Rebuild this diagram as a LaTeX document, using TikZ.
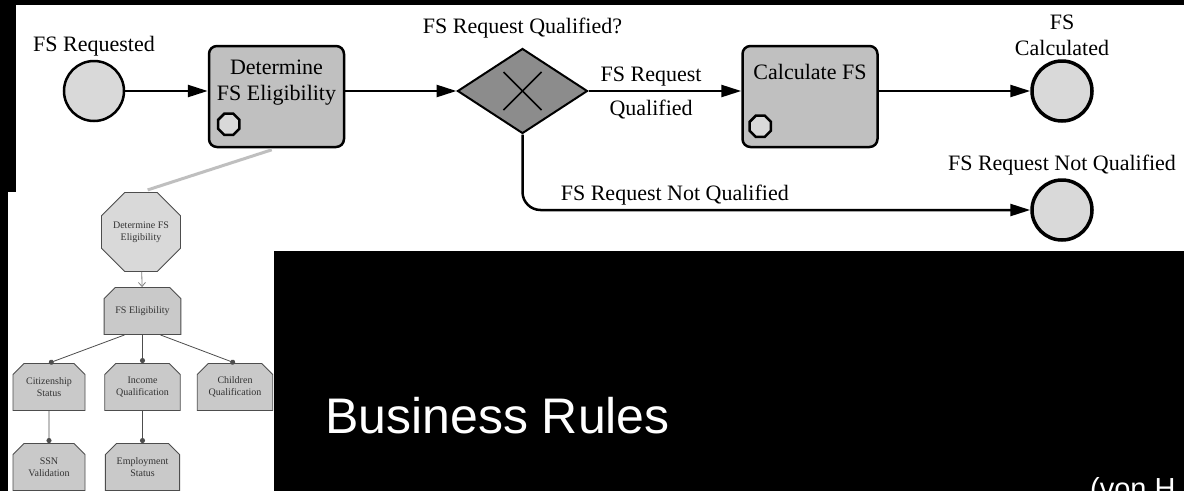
\documentclass[tikz,border=0pt]{standalone}
\usepackage{fontspec}
\setmainfont{Liberation Serif}
\newfontfamily\slidefont{Liberation Sans}
\usetikzlibrary{arrows.meta,shapes.geometric,shapes.misc}
\definecolor{taskgray}{HTML}{C0C0C0}
\definecolor{eventgray}{HTML}{D9D9D9}
\definecolor{gategray}{HTML}{8C8C8C}
\definecolor{rulegray}{HTML}{C9C9C9}
\definecolor{ruleline}{HTML}{4D4D4D}
\begin{document}
\begin{tikzpicture}[x=1pt,y=-1pt,font=\fontsize{22}{26}\selectfont,
	event/.style={circle,draw=black,line width=2.5pt,fill=eventgray,minimum size=60pt,inner sep=0pt,label distance=2pt},
	endevent/.style={event,line width=3.5pt},
	task/.style={rectangle,rounded corners=8pt,draw=black,line width=2.5pt,fill=taskgray,minimum width=135pt,minimum height=101pt},
	marker/.style={regular polygon,regular polygon sides=8,draw=black,line width=2.5pt,fill=eventgray,minimum size=23pt,inner sep=0pt},
	gate/.style={diamond,aspect=1.53,draw=black,line width=2pt,fill=gategray,minimum width=130pt,minimum height=85pt,inner sep=0pt},
	flow/.style={line width=2.5pt,-{Triangle[length=20pt,width=12pt]}},
	rulebox/.style={chamfered rectangle,chamfered rectangle corners={north west,north east},chamfered rectangle xsep=8pt,draw=ruleline,line width=0.9pt,fill=rulegray,minimum width=72pt,minimum height=47pt,align=center,text=black!80,font=\fontsize{10}{12}\selectfont},
	ruleedge/.style={draw=ruleline,line width=0.8pt,-{Circle[length=5pt]}}]
	\fill[black] (0,0) rectangle (1184,491);
	\fill[white] (16,5) rectangle (1184,251);
	\fill[white] (8,192) rectangle (274,491);
	\useasboundingbox (0,0) rectangle (1184,491);
	% process
	\node[event,label={above:FS Requested}] (start) at (94,91) {};
	\node[task,label={[anchor=north,yshift=-12pt,align=center]north:Determine\\FS Eligibility}] (det) at (276.5,96.5) {};
	\node[marker] at ([shift={(21pt,24pt)}]det.south west) {};
	\node[gate,label={[label distance=6pt]above:FS Request Qualified?}] (gw) at (522.5,91) {};
	\draw[line width=1.5pt] ([shift={(-19pt,-19pt)}]gw.center) -- ([shift={(19pt,19pt)}]gw.center);
	\draw[line width=1.5pt] ([shift={(-19pt,19pt)}]gw.center) -- ([shift={(19pt,-19pt)}]gw.center);
	\node[task,label={[anchor=north,yshift=-16pt]north:Calculate FS}] (calc) at (810,96.5) {};
	\node[marker] at ([shift={(19pt,22pt)}]calc.south west) {};
	\node[endevent,label={[align=center]above:FS\\Calculated}] (endA) at (1062,91) {};
	\node[endevent,label={above:FS Request Not Qualified}] (endB) at (1062,210) {};
	\draw[flow] (start) -- (det.west |- start);
	\draw[flow] (det.east |- gw) -- (gw.west);
	\draw[flow] (gw.east) -- node[above,pos=0.41]{FS Request} node[below,pos=0.41,yshift=-4pt]{Qualified} (calc.west |- gw.east);
	\draw[flow] (calc.east |- endA) -- (endA);
	\draw[flow,rounded corners=18pt] (gw.south) |- node[above,pos=0.65]{FS Request Not Qualified} (endB);
	% rule tree
	\node[regular polygon,regular polygon sides=8,draw=ruleline,line width=0.9pt,fill=eventgray,minimum size=69pt,inner sep=0pt,align=center,text=black!80,font=\fontsize{10}{12}\selectfont] (tdet) at (141,232) {Determine FS\\Eligibility};
	\draw[line width=3pt,draw=black!25,shorten <=5pt,shorten >=7pt] (det.south) -- (tdet.north);
	\node[rulebox] (elig) at (142.5,311) {FS Eligibility};
	\node[rulebox] (cit) at (49,387) {Citizenship\\Status};
	\node[rulebox] (inc) at (142.5,387) {Income\\Qualification};
	\node[rulebox] (chi) at (235,387) {Children\\Qualification};
	\node[rulebox] (ssn) at (49,467) {SSN\\Validation};
	\node[rulebox] (emp) at (142.5,467) {Employment\\Status};
	\draw[draw=gray,line width=0.8pt,-{Straight Barb[length=4pt,width=7pt]}] (tdet) -- (elig);
	\draw[ruleedge] ([xshift=-18pt]elig.south) -- (cit.north);
	\draw[ruleedge] (elig) -- (inc);
	\draw[ruleedge] ([xshift=18pt]elig.south) -- (chi.north);
	\draw[ruleedge] (cit) -- (ssn);
	\draw[ruleedge] (inc) -- (emp);
	% slide text
	\node[anchor=base west,inner sep=0pt,text=white,font=\slidefont\fontsize{50}{60}\selectfont] (title) at (325,433) {Business Rules};
	\node[anchor=base west,inner sep=0pt,text=white,font=\slidefont\fontsize{29}{35}\selectfont] (credit) at (1090,498) {(von H};
\end{tikzpicture}
\end{document}
